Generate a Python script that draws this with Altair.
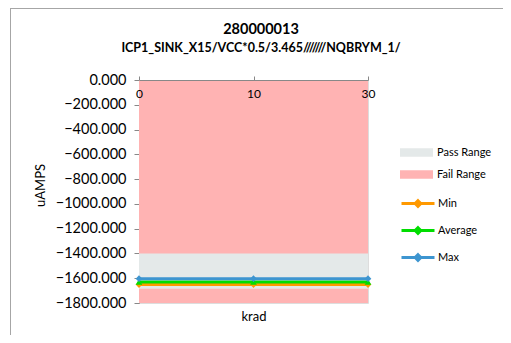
import altair as alt
import pandas as pd

krad = ["0", "10", "30"]
min_vals = [-1651, -1651, -1651]
avg_vals = [-1630, -1630, -1630]
max_vals = [-1604, -1604, -1604]

range_names = ["Fail Range", "Pass Range"]
range_top = [0, -1400]
range_bottom = [-1800, -1685]

series_names = ["Min", "Average", "Max"]
series_colors = ["#FF9900", "#00DD00", "#3D95D0"]
series_shapes = ["diamond", "triangle-up", "diamond"]

title_lines = ["280000013", "ICP1_SINK_X15/VCC*0.5/3.465///////NQBRYM_1/"]

W, H = 229, 223
FONT = "Lato"

rows = []
for name, vals in zip(series_names, [min_vals, avg_vals, max_vals]):
    for k, v in zip(krad, vals):
        rows.append({"krad": k, "series": name, "value": v})
df = pd.DataFrame(rows)

rdf = pd.DataFrame({"range": range_names, "top": range_top, "bottom": range_bottom})

yscale = alt.Scale(domain=[-1800, 0], nice=False, zero=False)
xscale = alt.Scale(type="point", domain=krad, padding=0)

yaxis = alt.Axis(values=list(range(-1800, 1, 200)), format=".3f",
                 title="uAMPS", grid=False, tickSize=5,
                 labelOverlap=False, labelFlush=False,
                 labelPadding=8, labelFontSize=14.5, labelFont=FONT,
                 labelColor="#000000", domainColor="#888888",
                 tickColor="#888888", titleFont=FONT,
                 titleFontSize=13, titleFontWeight="normal",
                 titleColor="#000000", titleX=-99, titleY=105,
                 titleBaseline="middle")
xaxis = alt.Axis(orient="top", title="krad", labelAngle=0, zindex=1,
                 labelFlush=False, labelOverlap=False,
                 tickSize=4, labelPadding=-12, labelBaseline="top",
                 labelFont=FONT, labelFontSize=12, labelColor="#000000",
                 domainColor="#888888", tickColor="#888888",
                 titleFont=FONT, titleFontSize=13,
                 titleFontWeight="normal", titleColor="#000000",
                 titleY=H + 13, titleBaseline="middle")

dummy = pd.DataFrame({"a": [0]})
border_top = alt.Chart(dummy).mark_rule(stroke="#A6A6A6", strokeWidth=1).encode(
    x=alt.value(-129), x2=alt.value(420), y=alt.value(-71.5)
)
border_left = alt.Chart(dummy).mark_rule(stroke="#A6A6A6", strokeWidth=1).encode(
    x=alt.value(-128.5), y=alt.value(-72), y2=alt.value(400)
)

t1 = alt.Chart(pd.DataFrame({"t": [title_lines[0]]})).mark_text(
    font=FONT, fontSize=14.5, fontWeight="bold", color="#000000", baseline="middle"
).encode(text="t:N", x=alt.value(122), y=alt.value(-50))
t2 = alt.Chart(pd.DataFrame({"t": [title_lines[1]]})).mark_text(
    font=FONT, fontSize=12.5, fontWeight="bold", color="#000000", baseline="middle"
).encode(text="t:N", x=alt.value(122), y=alt.value(-32))

ranges = alt.Chart(rdf).mark_rect().encode(
    x=alt.value(0), x2=alt.value(W),
    y=alt.Y("top:Q", scale=yscale, axis=yaxis),
    y2="bottom:Q",
    fill=alt.Fill("range:N",
                  scale=alt.Scale(domain=["Pass Range", "Fail Range"],
                                  range=["#E4E9E9", "#FFB3B3"]),
                  legend=alt.Legend(title=None, orient="none", legendX=261,
                                    legendY=56, symbolType="M-1,-0.26H1V0.26H-1Z",
                                    symbolSize=1089, symbolStrokeWidth=0,
                                    labelFont=FONT, labelFontSize=11,
                                    labelColor="#000000", rowPadding=-7,
                                    labelOffset=4)),
)

lines = alt.Chart(df).mark_line(strokeWidth=3).encode(
    x=alt.X("krad:N", scale=xscale, sort=krad, axis=xaxis),
    y=alt.Y("value:Q", scale=yscale, axis=yaxis),
    stroke=alt.Stroke("series:N",
                      scale=alt.Scale(domain=series_names, range=series_colors),
                      sort=series_names,
                      legend=alt.Legend(title=None, orient="none", legendX=261,
                                        legendY=105.5,
                                        symbolType="M-1,0H1M0,-0.17L0.17,0L0,0.17L-0.17,0Z",
                                        symbolSize=1089, symbolStrokeWidth=3,
                                        labelFont=FONT, labelFontSize=11,
                                        labelColor="#000000", rowPadding=-7,
                                        labelOffset=2)),
    detail="series:N",
)

point_layers = []
for name, col, shp in zip(series_names, series_colors, series_shapes):
    point_layers.append(
        alt.Chart(df).transform_filter(alt.datum.series == name)
        .mark_point(filled=True, size=45, opacity=1, color=col, shape=shp)
        .encode(x=alt.X("krad:N", scale=xscale, sort=krad, axis=xaxis),
                y=alt.Y("value:Q", scale=yscale, axis=yaxis))
    )

chart = alt.layer(border_top, border_left, t1, t2, ranges, lines, *point_layers).properties(
    width=W, height=H,
    autosize=alt.AutoSizeParams(type="none"),
    padding={"left": 131, "top": 72, "right": 135, "bottom": 32},
).configure_view(stroke=None).configure_axisY(labelOverlap=False).configure(background="#FFFFFF")

chart.save("out.html", embed_options={"renderer": "svg", "actions": False})
